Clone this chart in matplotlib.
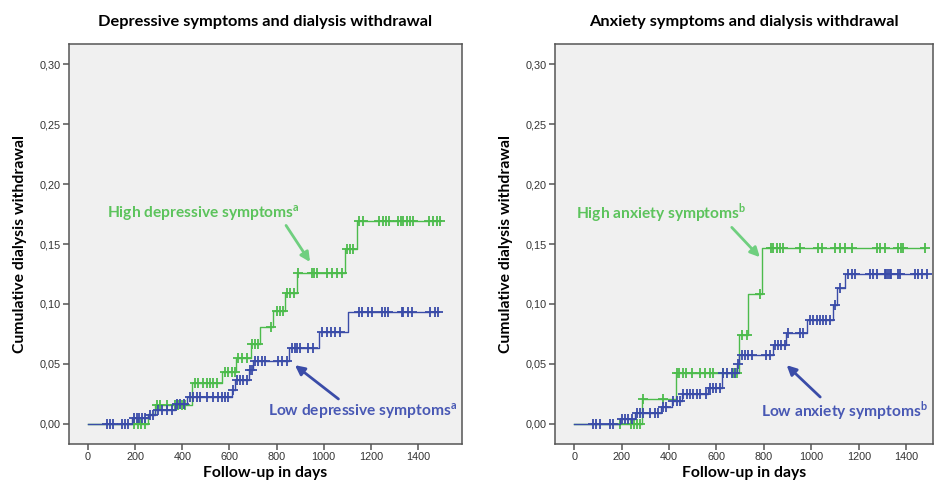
import numpy as np
import matplotlib
matplotlib.use("Agg")
import matplotlib.pyplot as plt
from matplotlib.ticker import FuncFormatter

# ---- data (days, cumulative withdrawal) ----
# depressive symptoms panel
dep_high_events = [0, 255, 284, 440, 567, 628, 690, 730, 786, 836, 888, 1090, 1140]
dep_high_values = [0, 0.008, 0.016, 0.034, 0.0436, 0.0547, 0.067, 0.0806, 0.0944, 0.109, 0.126, 0.146, 0.169]
dep_high_censor = [195, 210, 225, 240, 291, 306, 334, 369, 383, 397, 411,
                   454, 468, 489, 503, 517, 532, 546, 581, 595, 609, 624,
                   638, 652, 673, 694, 708, 722, 775, 800, 815, 828, 845, 858, 872,
                   892, 949, 959, 970, 1013, 1034, 1055, 1076, 1100, 1111, 1123,
                   1151, 1165, 1236, 1250, 1264, 1278, 1317, 1327, 1338, 1352, 1366,
                   1380, 1448, 1465, 1479, 1493]

dep_low_events = [0, 185, 255, 284, 369, 419, 610, 625, 683, 701, 854, 981, 1104]
dep_low_values = [0, 0.0047, 0.0072, 0.0117, 0.017, 0.0228, 0.0283, 0.0367, 0.045, 0.0528, 0.063, 0.077, 0.0936]
dep_low_censor = [79, 93, 107, 143, 157, 171, 195, 206, 218, 229, 240, 263, 274,
                  298, 312, 334, 355, 376, 390, 407, 433, 447, 461, 475, 503, 532,
                  553, 567, 581, 595, 617, 631, 645, 659, 673, 687, 694, 708, 723,
                  737, 751, 808, 822, 843, 864, 878, 888, 899, 935, 956, 991, 1013,
                  1030, 1048, 1069, 1151, 1161, 1189, 1203, 1246, 1260, 1274, 1331,
                  1338, 1359, 1373, 1451, 1472, 1486]

# anxiety symptoms panel
anx_high_events = [0, 284, 429, 695, 734, 790]
anx_high_values = [0, 0.0205, 0.0427, 0.074, 0.108, 0.147]
anx_high_censor = [193, 238, 252, 266, 277, 291, 375, 432, 443, 457, 471, 495, 530,
                   551, 572, 586, 628, 671, 685, 706, 727, 782, 832, 839, 854, 868,
                   882, 952, 1029, 1043, 1100, 1121, 1142, 1170, 1275, 1289, 1310,
                   1367, 1378, 1388, 1479]

anx_low_events = [0, 193, 256, 368, 411, 453, 565, 622, 685, 695, 839, 893, 980, 1092, 1107, 1142]
anx_low_values = [0, 0.0039, 0.0094, 0.0144, 0.0194, 0.0247, 0.0303, 0.0422, 0.05, 0.0574,
                  0.0657, 0.0755, 0.0865, 0.099, 0.113, 0.1248]
anx_low_censor = [80, 94, 108, 150, 165, 200, 214, 228, 242, 263, 277, 291, 319, 340,
                  354, 375, 389, 418, 432, 446, 460, 474, 488, 502, 516, 530, 558, 572,
                  586, 600, 614, 629, 643, 664, 678, 689, 706, 720, 734, 748, 811, 825,
                  846, 860, 874, 888, 903, 952, 966, 994, 1008, 1022, 1036, 1050, 1064,
                  1078, 1099, 1121, 1156, 1170, 1184, 1247, 1261, 1275, 1310, 1317, 1324,
                  1331, 1338, 1367, 1374, 1437, 1451, 1465, 1486]

x_ticks = [0, 200, 400, 600, 800, 1000, 1200, 1400]
y_ticks = [0.0, 0.05, 0.10, 0.15, 0.20, 0.25, 0.30]

GREEN = "#4cbb4c"
GREEN_TXT = "#5cc35c"
BLUE = "#3a4ca8"
BLUE_TXT = "#4858b4"
HEAD = "Lato"
TICK = "Liberation Sans"


def km_curve(ax, events, values, censor, color):
    events = np.asarray(events, float)
    values = np.asarray(values, float)
    censor = np.asarray(censor, float)
    end = max(censor.max(), events.max())
    t = np.append(events, end)
    v = np.append(values, values[-1])
    ax.step(t, v, where="post", color=color, lw=1.0)
    idx = np.searchsorted(events, censor, side="right") - 1
    ax.plot(censor, values[idx], linestyle="none", marker="+", ms=6.5, mew=1.3, color=color)


def style_axes(ax, title, xmax):
    ax.set_facecolor("#f0f0f0")
    ax.set_xlim(-81, xmax)
    ax.set_ylim(-0.0167, 0.3167)
    ax.set_xticks(x_ticks)
    ax.set_yticks(y_ticks)
    ax.yaxis.set_major_formatter(FuncFormatter(lambda v, p: f"{v:.2f}".replace(".", ",")))
    for s in ax.spines.values():
        s.set_color("#555555")
        s.set_linewidth(1.1)
    ax.tick_params(direction="out", length=4, width=1.1, color="#555555",
                   labelsize=7.8, labelcolor="#333333", pad=2)
    for lab in ax.get_xticklabels() + ax.get_yticklabels():
        lab.set_family(TICK)
    ax.set_title(title, fontsize=11.8, fontweight="bold", family=HEAD, pad=13)
    ax.set_xlabel("Follow-up in days", fontsize=11.3, fontweight="bold", family=HEAD, labelpad=3)
    ax.set_ylabel("Cumulative dialysis withdrawal", fontsize=11.3, fontweight="bold", family=HEAD, labelpad=9)


fig = plt.figure(figsize=(9.4, 4.88), dpi=100)
ax1 = fig.add_axes([0.0734, 0.0902, 0.4181, 0.8196])
ax2 = fig.add_axes([0.5904, 0.0902, 0.4021, 0.8196])

km_curve(ax1, dep_high_events, dep_high_values, dep_high_censor, GREEN)
km_curve(ax1, dep_low_events, dep_low_values, dep_low_censor, BLUE)
style_axes(ax1, "Depressive symptoms and dialysis withdrawal", 1587)

km_curve(ax2, anx_high_events, anx_high_values, anx_high_censor, GREEN)
km_curve(ax2, anx_low_events, anx_low_values, anx_low_censor, BLUE)
style_axes(ax2, "Anxiety symptoms and dialysis withdrawal", 1513)

txt = dict(fontsize=11.2, fontweight="bold", family=HEAD, va="center")
ax1.annotate("High depressive symptoms$^{\\mathregular{a}}$", xy=(942, 0.135), xytext=(80, 0.176),
             color=GREEN_TXT, ha="left", **txt,
             arrowprops=dict(arrowstyle="-|>", color="#6fcf7f", lw=2, mutation_scale=14,
                             shrinkA=0, shrinkB=0, relpos=(0.92, 0.0)))
ax1.annotate("Low depressive symptoms$^{\\mathregular{a}}$", xy=(878, 0.049), xytext=(1565, 0.0103),
             color=BLUE_TXT, ha="right", **txt,
             arrowprops=dict(arrowstyle="-|>", color="#3a4ca8", lw=2, mutation_scale=14,
                             shrinkA=0, shrinkB=0, relpos=(0.38, 1.1)))

ax2.annotate("High anxiety symptoms$^{\\mathregular{b}}$", xy=(783, 0.139), xytext=(7, 0.176),
             color=GREEN_TXT, ha="left", **txt,
             arrowprops=dict(arrowstyle="-|>", color="#6fcf7f", lw=2, mutation_scale=14,
                             shrinkA=0, shrinkB=0, relpos=(0.9, 0.0)))
ax2.annotate("Low anxiety symptoms$^{\\mathregular{b}}$", xy=(896, 0.049), xytext=(1490, 0.0103),
             color=BLUE_TXT, ha="right", **txt,
             arrowprops=dict(arrowstyle="-|>", color="#3a4ca8", lw=2, mutation_scale=14,
                             shrinkA=0, shrinkB=0, relpos=(0.36, 1.1)))

fig.savefig("out.png", dpi=100, facecolor="white")
